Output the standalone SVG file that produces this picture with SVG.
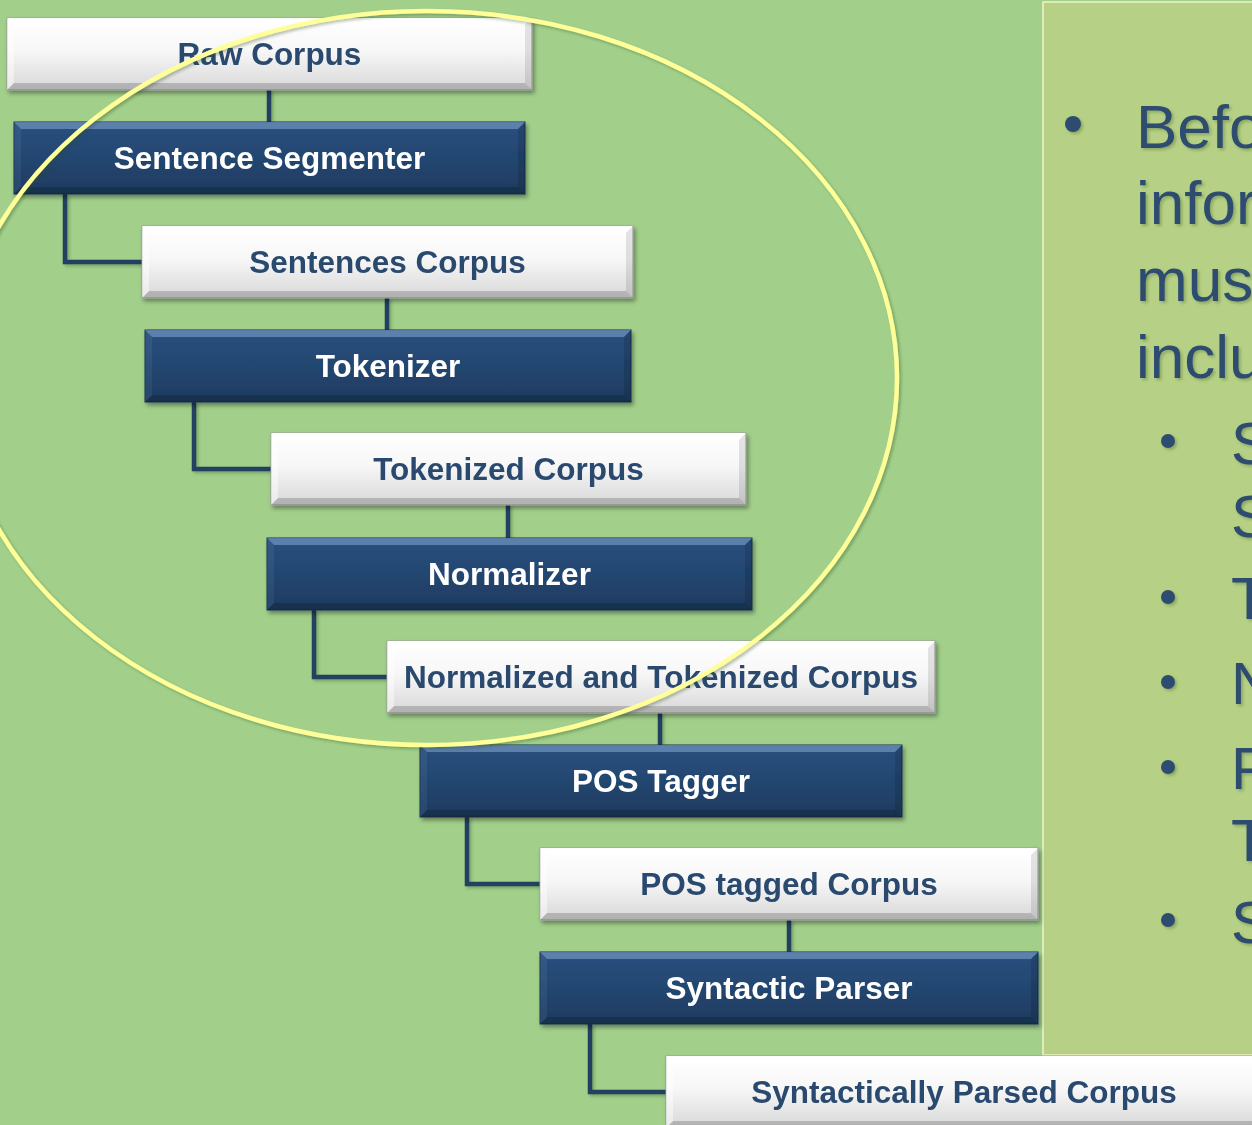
<svg xmlns="http://www.w3.org/2000/svg" width="1252" height="1125" viewBox="0 0 1252 1125">
  <defs>
    <linearGradient id="gLight" x1="0" y1="0" x2="0" y2="1">
      <stop offset="0" stop-color="#ffffff"/>
      <stop offset="0.45" stop-color="#f7f7f7"/>
      <stop offset="1" stop-color="#d8d8d8"/>
    </linearGradient>
    <linearGradient id="gDark" x1="0" y1="0" x2="0" y2="1">
      <stop offset="0" stop-color="#2a5080"/>
      <stop offset="0.5" stop-color="#234670"/>
      <stop offset="1" stop-color="#1e3b60"/>
    </linearGradient>
    <filter id="shadow" x="-5%" y="-20%" width="110%" height="150%">
      <feDropShadow dx="2" dy="3" stdDeviation="2.2" flood-color="#000" flood-opacity="0.38"/>
    </filter>
    <filter id="lineShadow" x="-10%" y="-10%" width="120%" height="120%">
      <feDropShadow dx="2" dy="2" stdDeviation="1.5" flood-color="#2a4a20" flood-opacity="0.35"/>
    </filter>
    <filter id="textShadow" x="-10%" y="-20%" width="120%" height="150%">
      <feDropShadow dx="2" dy="2" stdDeviation="1.5" flood-color="#3a5a20" flood-opacity="0.35"/>
    </filter>
  </defs>
  <style>
    .node text { font-family: "Liberation Sans", Arial, sans-serif; font-weight: bold; font-size: 31.5px; text-anchor: middle; }
    .light rect { fill: url(#gLight); stroke: #9c9c9c; stroke-width: 1; }
    .dark rect { fill: url(#gDark); stroke: #17304f; stroke-width: 1; }
    .light text { fill: #2b4a6e; }
    .dark text { fill: #ffffff; }
    .light .bt { fill: #ffffff; opacity: 0.95; }
    .light .bb { fill: #000; opacity: 0.18; }
    .light .bl { fill: #ffffff; opacity: 0.45; }
    .light .br { fill: #000; opacity: 0.1; }
    .dark .bt { fill: #8fb2dc; opacity: 0.5; }
    .dark .bb { fill: #000; opacity: 0.2; }
    .dark .bl { fill: #8fb2dc; opacity: 0.1; }
    .dark .br { fill: #000; opacity: 0.12; }
    .conn path { fill: none; stroke: #243f60; stroke-width: 4.5; stroke-linejoin: miter; }
    .panel text { font-family: "Liberation Sans", Arial, sans-serif; fill: #2e4b6f; }
    .panel .l1 { font-size: 62px; }
    .panel .l2 { font-size: 60px; }
    .panel circle { fill: #2e4b6f; }
  </style>

  <!-- background -->
  <rect x="0" y="0" width="1252" height="1125" fill="#a2d08b"/>

  <!-- side text panel (runs past the right edge) -->
  <g id="panel" class="panel">
    <rect x="1043" y="2" width="230" height="1053" fill="#b6d186" stroke="#eef3c6" stroke-width="1.5"/>
    <g filter="url(#textShadow)">
      <circle cx="1073" cy="124" r="8"/>
      <text class="l1" x="1136" y="148">Befo</text>
      <text class="l1" x="1136" y="224">infor</text>
      <text class="l1" x="1136" y="301">mus</text>
      <text class="l1" x="1136" y="378">inclu</text>
      <circle cx="1168" cy="441" r="7"/>
      <text class="l2" x="1231" y="464">S</text>
      <text class="l2" x="1231" y="537">S</text>
      <circle cx="1168" cy="597" r="7"/>
      <text class="l2" x="1231" y="619">T</text>
      <circle cx="1168" cy="682" r="7"/>
      <text class="l2" x="1231" y="704">N</text>
      <circle cx="1168" cy="767" r="7"/>
      <text class="l2" x="1231" y="789">P</text>
      <text class="l2" x="1231" y="861">T</text>
      <circle cx="1168" cy="920" r="7"/>
      <text class="l2" x="1231" y="943">S</text>
    </g>
  </g>

  <!-- connectors -->
  <g id="connectors" class="conn" filter="url(#lineShadow)">
    <path d="M269,90 V122"/>
    <path d="M65,194 V262 H142"/>
    <path d="M387,298 V330"/>
    <path d="M194,402 V469 H271"/>
    <path d="M508,505 V538"/>
    <path d="M314,610 V677 H387"/>
    <path d="M660,713 V745"/>
    <path d="M467,817 V884 H540"/>
    <path d="M789,920 V952"/>
    <path d="M590,1024 V1092 H666"/>
  </g>

  <!-- nodes -->
  <g id="raw-corpus" class="node light" filter="url(#shadow)">
    <rect x="7" y="18" width="525" height="72"/>
    <polygon class="bt" points="7,18 532,18 525,25 14,25"/>
    <polygon class="bb" points="7,90 532,90 525,83 14,83"/>
    <polygon class="bl" points="7,18 14,25 14,83 7,90"/>
    <polygon class="br" points="532,18 525,25 525,83 532,90"/>
    <text x="269.5" y="65">Raw Corpus</text>
  </g>
  <g id="sentence-segmenter" class="node dark" filter="url(#shadow)">
    <rect x="14" y="122" width="511" height="72"/>
    <polygon class="bt" points="14,122 525,122 518,129 21,129"/>
    <polygon class="bb" points="14,194 525,194 518,187 21,187"/>
    <polygon class="bl" points="14,122 21,129 21,187 14,194"/>
    <polygon class="br" points="525,122 518,129 518,187 525,194"/>
    <text x="269.5" y="169">Sentence Segmenter</text>
  </g>
  <g id="sentences-corpus" class="node light" filter="url(#shadow)">
    <rect x="142" y="226" width="491" height="72"/>
    <polygon class="bt" points="142,226 633,226 626,233 149,233"/>
    <polygon class="bb" points="142,298 633,298 626,291 149,291"/>
    <polygon class="bl" points="142,226 149,233 149,291 142,298"/>
    <polygon class="br" points="633,226 626,233 626,291 633,298"/>
    <text x="387.5" y="273">Sentences Corpus</text>
  </g>
  <g id="tokenizer" class="node dark" filter="url(#shadow)">
    <rect x="145" y="330" width="486" height="72"/>
    <polygon class="bt" points="145,330 631,330 624,337 152,337"/>
    <polygon class="bb" points="145,402 631,402 624,395 152,395"/>
    <polygon class="bl" points="145,330 152,337 152,395 145,402"/>
    <polygon class="br" points="631,330 624,337 624,395 631,402"/>
    <text x="388" y="377">Tokenizer</text>
  </g>
  <g id="tokenized-corpus" class="node light" filter="url(#shadow)">
    <rect x="271" y="433" width="475" height="72"/>
    <polygon class="bt" points="271,433 746,433 739,440 278,440"/>
    <polygon class="bb" points="271,505 746,505 739,498 278,498"/>
    <polygon class="bl" points="271,433 278,440 278,498 271,505"/>
    <polygon class="br" points="746,433 739,440 739,498 746,505"/>
    <text x="508.5" y="480">Tokenized Corpus</text>
  </g>
  <g id="normalizer" class="node dark" filter="url(#shadow)">
    <rect x="267" y="538" width="485" height="72"/>
    <polygon class="bt" points="267,538 752,538 745,545 274,545"/>
    <polygon class="bb" points="267,610 752,610 745,603 274,603"/>
    <polygon class="bl" points="267,538 274,545 274,603 267,610"/>
    <polygon class="br" points="752,538 745,545 745,603 752,610"/>
    <text x="509.5" y="585">Normalizer</text>
  </g>
  <g id="normalized-tokenized-corpus" class="node light" filter="url(#shadow)">
    <rect x="387" y="641" width="548" height="72"/>
    <polygon class="bt" points="387,641 935,641 928,648 394,648"/>
    <polygon class="bb" points="387,713 935,713 928,706 394,706"/>
    <polygon class="bl" points="387,641 394,648 394,706 387,713"/>
    <polygon class="br" points="935,641 928,648 928,706 935,713"/>
    <text x="661" y="688">Normalized and Tokenized Corpus</text>
  </g>
  <g id="pos-tagger" class="node dark" filter="url(#shadow)">
    <rect x="420" y="745" width="482" height="72"/>
    <polygon class="bt" points="420,745 902,745 895,752 427,752"/>
    <polygon class="bb" points="420,817 902,817 895,810 427,810"/>
    <polygon class="bl" points="420,745 427,752 427,810 420,817"/>
    <polygon class="br" points="902,745 895,752 895,810 902,817"/>
    <text x="661" y="792">POS Tagger</text>
  </g>
  <g id="pos-tagged-corpus" class="node light" filter="url(#shadow)">
    <rect x="540" y="848" width="498" height="72"/>
    <polygon class="bt" points="540,848 1038,848 1031,855 547,855"/>
    <polygon class="bb" points="540,920 1038,920 1031,913 547,913"/>
    <polygon class="bl" points="540,848 547,855 547,913 540,920"/>
    <polygon class="br" points="1038,848 1031,855 1031,913 1038,920"/>
    <text x="789" y="895">POS tagged Corpus</text>
  </g>
  <g id="syntactic-parser" class="node dark" filter="url(#shadow)">
    <rect x="540" y="952" width="498" height="72"/>
    <polygon class="bt" points="540,952 1038,952 1031,959 547,959"/>
    <polygon class="bb" points="540,1024 1038,1024 1031,1017 547,1017"/>
    <polygon class="bl" points="540,952 547,959 547,1017 540,1024"/>
    <polygon class="br" points="1038,952 1031,959 1031,1017 1038,1024"/>
    <text x="789" y="999">Syntactic Parser</text>
  </g>
  <g id="syntactically-parsed-corpus" class="node light" filter="url(#shadow)">
    <rect x="666" y="1056" width="596" height="72"/>
    <polygon class="bt" points="666,1056 1262,1056 1255,1063 673,1063"/>
    <polygon class="bb" points="666,1128 1262,1128 1255,1121 673,1121"/>
    <polygon class="bl" points="666,1056 673,1063 673,1121 666,1128"/>
    <text x="964" y="1103">Syntactically Parsed Corpus</text>
  </g>

  <!-- highlight ring around the first processing stages -->
  <ellipse id="highlight" cx="427" cy="378" rx="470" ry="367" fill="none" stroke="#ffff99" stroke-width="4.5" filter="url(#lineShadow)"/>
</svg>
